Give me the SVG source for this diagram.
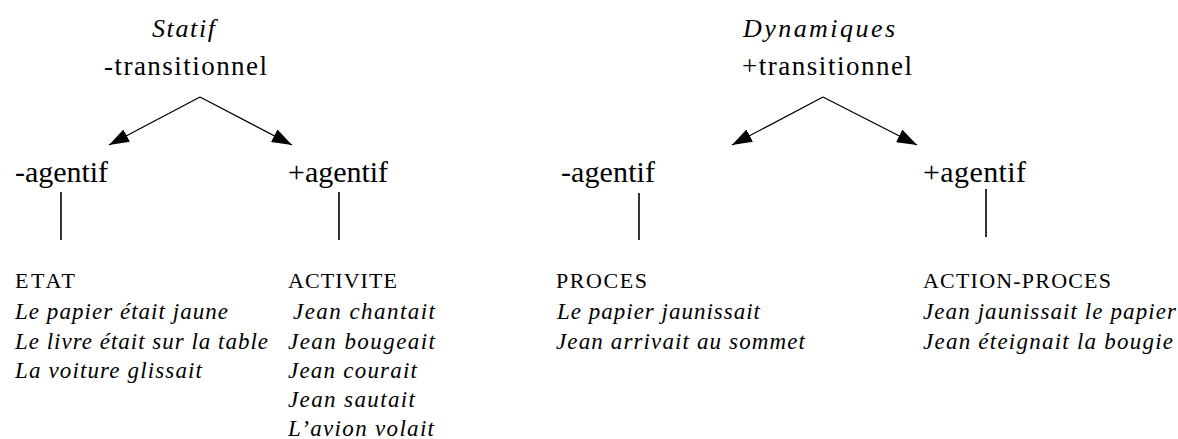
<svg xmlns="http://www.w3.org/2000/svg" width="1178" height="439" viewBox="0 0 1178 439">
<style>
.r{font-family:"Liberation Serif","Times New Roman",serif;fill:#000}
.top{font-size:27px}
.ag{font-size:30px}
.hd{font-size:22px}
.it{font-family:"Liberation Serif","Times New Roman",serif;font-style:italic;font-size:23px;fill:#000}
.ti{font-family:"Liberation Serif","Times New Roman",serif;font-style:italic;font-size:26px;fill:#000}
.ln{stroke:#000;stroke-width:1.3;fill:none}
.vl{stroke:#000;stroke-width:1.6;fill:none}
</style>
<defs>
<marker id="ah" viewBox="0 0 20 14" refX="20" refY="7" markerWidth="20" markerHeight="14" markerUnits="userSpaceOnUse" orient="auto">
<path d="M0,0 L20,7 L0,14 z" fill="#000"/>
</marker>
</defs>
<rect width="1178" height="439" fill="#fff"/>
<g id="statif">
<text class="ti" x="152" y="37" textLength="63">Statif</text>
<text class="r top" x="104" y="75" textLength="163">-transitionnel</text>
</g>
<g id="dynamiques">
<text class="ti" x="743" y="37" textLength="152">Dynamiques</text>
<text class="r top" x="742" y="75" textLength="170">+transitionnel</text>
</g>
<g id="statif-moins-agentif">
<text class="r ag" x="15" y="182" textLength="93">-agentif</text>
</g>
<g id="statif-plus-agentif">
<text class="r ag" x="288" y="182" textLength="100">+agentif</text>
</g>
<g id="dyn-moins-agentif">
<text class="r ag" x="561" y="182" textLength="94">-agentif</text>
</g>
<g id="dyn-plus-agentif">
<text class="r ag" x="923" y="182" textLength="103">+agentif</text>
</g>
<g id="etat">
<text class="r hd" x="15" y="288" textLength="60">ETAT</text>
<text class="it" x="15" y="319" textLength="213">Le papier était jaune</text>
<text class="it" x="15" y="349" textLength="253">Le livre était sur la table</text>
<text class="it" x="15" y="378" textLength="187">La voiture glissait</text>
</g>
<g id="activite">
<text class="r hd" x="288" y="288" textLength="109">ACTIVITE</text>
<text class="it" x="293" y="319" textLength="142">Jean chantait</text>
<text class="it" x="288" y="349" textLength="147">Jean bougeait</text>
<text class="it" x="288" y="378" textLength="129">Jean courait</text>
<text class="it" x="288" y="407" textLength="127">Jean sautait</text>
<text class="it" x="288" y="436" textLength="146">L’avion volait</text>
</g>
<g id="proces">
<text class="r hd" x="556" y="288" textLength="91">PROCES</text>
<text class="it" x="557" y="319" textLength="203">Le papier jaunissait</text>
<text class="it" x="556" y="349" textLength="249">Jean arrivait au sommet</text>
</g>
<g id="action-proces">
<text class="r hd" x="923" y="288" textLength="188">ACTION-PROCES</text>
<text class="it" x="923" y="319" textLength="253">Jean jaunissait le papier</text>
<text class="it" x="923" y="349" textLength="250">Jean éteignait la bougie</text>
</g>
<g id="connectors">
<line class="ln" x1="200" y1="97" x2="109" y2="145" marker-end="url(#ah)"/>
<line class="ln" x1="200" y1="97" x2="292" y2="145" marker-end="url(#ah)"/>
<line class="ln" x1="823" y1="97" x2="732" y2="145" marker-end="url(#ah)"/>
<line class="ln" x1="823" y1="97" x2="917" y2="145" marker-end="url(#ah)"/>
<line class="vl" x1="61" y1="192" x2="61" y2="240"/>
<line class="vl" x1="339" y1="192" x2="339" y2="240"/>
<line class="vl" x1="639" y1="193" x2="639" y2="240"/>
<line class="vl" x1="986" y1="189" x2="986" y2="237"/>
</g>
</svg>
